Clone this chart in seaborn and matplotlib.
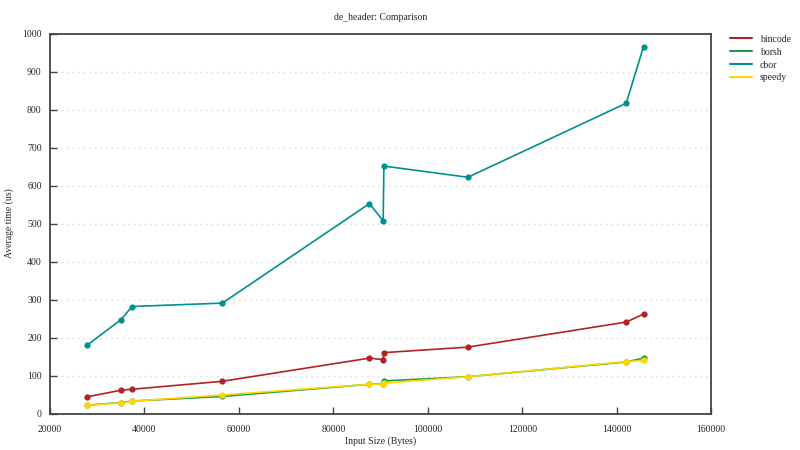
import numpy as np
import pandas as pd
import matplotlib
matplotlib.use("Agg")
import matplotlib.pyplot as plt
import seaborn as sns
from matplotlib.lines import Line2D

sizes = [27840, 35040, 37370, 56500, 87630, 90540, 90700, 108480, 142000, 145680]
bincode = [44, 61.5, 64, 85, 146, 142, 160.5, 175, 241, 262]
borsh = [22, 29, 33, 45, 77, 79, 86, 97, 136, 146]
cbor = [180, 247.5, 282, 291, 553, 508, 652, 622.5, 817.5, 967]
speedy = [22, 28, 32.5, 49, 77, 78, 80, 97, 137, 140]

series = {"bincode": bincode, "borsh": borsh, "cbor": cbor, "speedy": speedy}
colors = {"bincode": "#b22222", "borsh": "#1f9a4a", "cbor": "#009090", "speedy": "#ffd700"}

rows = []
for name, vals in series.items():
    for x, y in zip(sizes, vals):
        rows.append({"size": x, "time": y, "lib": name})
df = pd.DataFrame(rows)

sns.set_theme(style="white")
plt.rcParams["font.family"] = ["Liberation Serif", "DejaVu Serif"]

fig = plt.figure(figsize=(8, 4.5), dpi=100)
ax = fig.add_axes([0.0625, 0.081, 0.8265, 0.8435])

sns.lineplot(data=df, x="size", y="time", hue="lib", palette=colors,
             marker="o", markersize=4.5, markeredgewidth=0, linewidth=1.2,
             ax=ax, legend=False, sort=True, estimator=None)

ax.set_xlim(20000, 160000)
ax.set_ylim(0, 1000)
ax.set_xticks(np.arange(20000, 160001, 20000))
ax.set_yticks(np.arange(0, 1001, 100))
ax.tick_params(axis="both", direction="in", length=5, width=1.0, color="#444444",
               labelsize=7, pad=6, bottom=True, left=True, top=False, right=False)
ax.tick_params(axis="x", pad=8)
ax.yaxis.grid(True, linestyle=(0, (1, 3)), color="#d8d8d8", linewidth=1.0)
ax.xaxis.grid(False)
for s in ax.spines.values():
    s.set_color("#444444")
    s.set_linewidth(1.3)

ax.set_xlabel("")
ax.set_ylabel("")
fig.text(380.5 / 800, 1 - 441 / 450, "Input Size (Bytes)", fontsize=7,
         ha="center", va="center")
fig.text(9 / 800, 1 - 223 / 450, "Average time (us)", fontsize=7,
         ha="center", va="center", rotation=90)
fig.text(380.5 / 800, 1 - 18 / 450, "de_header: Comparison", fontsize=7,
         ha="center", va="center")

handles = [Line2D([0], [0], color=colors[n], lw=1.5) for n in series]
ax.legend(handles, list(series.keys()), loc="upper left", bbox_to_anchor=(1.022, 1.008),
          frameon=False, fontsize=7, handlelength=2.3, labelspacing=0.4,
          handletextpad=0.8, borderaxespad=0.0)

fig.savefig("out.png", dpi=100)
